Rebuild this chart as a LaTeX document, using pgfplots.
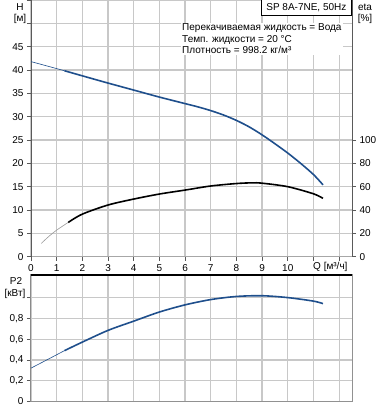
\documentclass[border=0pt]{standalone}
\usepackage{fontspec}
\setmainfont{Liberation Sans}
\usepackage{pgfplots}
\pgfplotsset{compat=1.18}
\definecolor{curveblue}{HTML}{1F4F8C}
\definecolor{gridc}{HTML}{C8C8C8}
\definecolor{axc}{HTML}{5A5A5A}
\pgfplotsset{
  base/.style={
    scale only axis, width=321bp, xmin=0, xmax=12.5,
    tick align=outside, major tick length=4bp,
    tick style={axc, line width=0.8bp},
    /pgf/number format/assume math mode=true,
    tick label style={font=\fontsize{10bp}{12bp}\selectfont},
    axis line style={axc, line width=1bp},
    xtick={0,1,2,3,4,5,6,7,8,9,10,11,12},
  },
  gridon/.style={xmajorgrids=true, ymajorgrids=true,
    every axis grid/.style={draw=gridc, line width=1.3bp}}
}
\begin{document}
\begin{tikzpicture}
\useasboundingbox (0,0) rectangle (378bp,410bp);
% ---------- upper: H ----------
\begin{axis}[base, gridon, at={(31bp,153.3bp)}, anchor=south west, height=256.7bp,
  ymin=0, ymax=55,
  ytick={0,5,10,15,20,25,30,35,40,45,50,55},
  yticklabels={0,5,10,15,20,25,30,35,40,45,,},
  xticklabels={0,1,2,3,4,5,6,7,8,9,10,,},
  axis x line*=bottom, axis y line*=left,
  x axis line style={gridc!70!axc, line width=1.3bp},
  xtick style={axc}]
\addplot[curveblue, line width=0.6bp, smooth] coordinates {(0,41.8) (0.5,41.05) (1,40.3) (1.3,39.85)};
\addplot[curveblue, line width=1.6bp, smooth] coordinates {
(1.3,39.85) (2,38.75) (3,37.2) (4,35.7) (5,34.2) (6,32.8) (6.5,32.1) (7,31.3) (7.5,30.35) (8,29.2)
(8.5,27.8) (9,26.1) (9.5,24.2) (10,22.2) (10.5,20.0) (11,17.6) (11.37,15.4)};
\end{axis}
% ---------- upper: eta ----------
\begin{axis}[base, at={(31bp,153.3bp)}, anchor=south west, height=256.7bp,
  ymin=0, ymax=220, axis x line=none, axis y line*=right,
  ytick={0,20,40,60,80,100}]
\addplot[gray!80, line width=0.6bp, smooth] coordinates {(0.4,11.4) (0.7,17.5) (1,22.8) (1.45,29.4)};
\addplot[black, line width=1.6bp, smooth] coordinates {
(1.45,29.4) (2,36.5) (3,44.3) (4,49.4) (5,53.7) (6,57.1) (7,60.6) (8,62.7)
(8.6,63.3) (9,63.0) (10,60.0) (11,53.9) (11.37,50.0)};
\end{axis}
% ---------- lower: P2 ----------
\begin{axis}[base, gridon, at={(31bp,8.5bp)}, anchor=south west, height=126.5bp,
  ymin=0, ymax=1.22,
  ytick={0,0.2,0.4,0.6,0.8,1.0},
  yticklabels={0,{0,2},{0,4},{0,6},{0,8},},
  xticklabels={}, xtick style={draw=none},
  axis lines=box, axis line style={gridc!50!axc, line width=1bp},
  ytick pos=left]
\addplot[curveblue, line width=0.6bp, smooth] coordinates {(0,0.322) (0.5,0.386) (1,0.451) (1.3,0.49)};
\addplot[curveblue, line width=1.6bp, smooth] coordinates {
(1.3,0.49) (2,0.573) (3,0.686) (4,0.775) (5,0.863) (6,0.932) (7,0.983)
(8,1.013) (9,1.020) (10,1.002) (11,0.968) (11.37,0.944)};
\draw[black, line width=1.2bp] (rel axis cs:0,1) -- (rel axis cs:1,1);
\draw[axc, line width=1bp] (rel axis cs:0,0) -- (rel axis cs:0,1);
\end{axis}
% ---------- texts ----------
\begin{scope}[every node/.style={font=\fontsize{10bp}{12bp}\selectfont, inner sep=0pt}]
\node at (20bp,403bp) {H};
\node at (20bp,391bp) {[м]};
\node at (365bp,403bp) {eta};
\node at (365bp,391bp) {[\%]};
\node at (16bp,129bp) {P2};
\node at (15bp,116.5bp) {[кВт]};
\node[anchor=west] at (313bp,143.3bp) {Q [м³/ч]};
\node[draw=black, fill=white, line width=0.8bp, minimum width=90.5bp, minimum height=16bp, anchor=north east] at (352bp,411bp) {SP 8A-7NE, 50Hz};
\node[anchor=north west, fill=white, align=left, inner sep=1bp, font=\fontsize{10bp}{11.5bp}\selectfont] at (181bp,387.5bp) {Перекачиваемая жидкость = Вода\\Темп. жидкости = 20 °C\\Плотность = 998.2 кг/м³};
\end{scope}
\end{tikzpicture}
\end{document}
